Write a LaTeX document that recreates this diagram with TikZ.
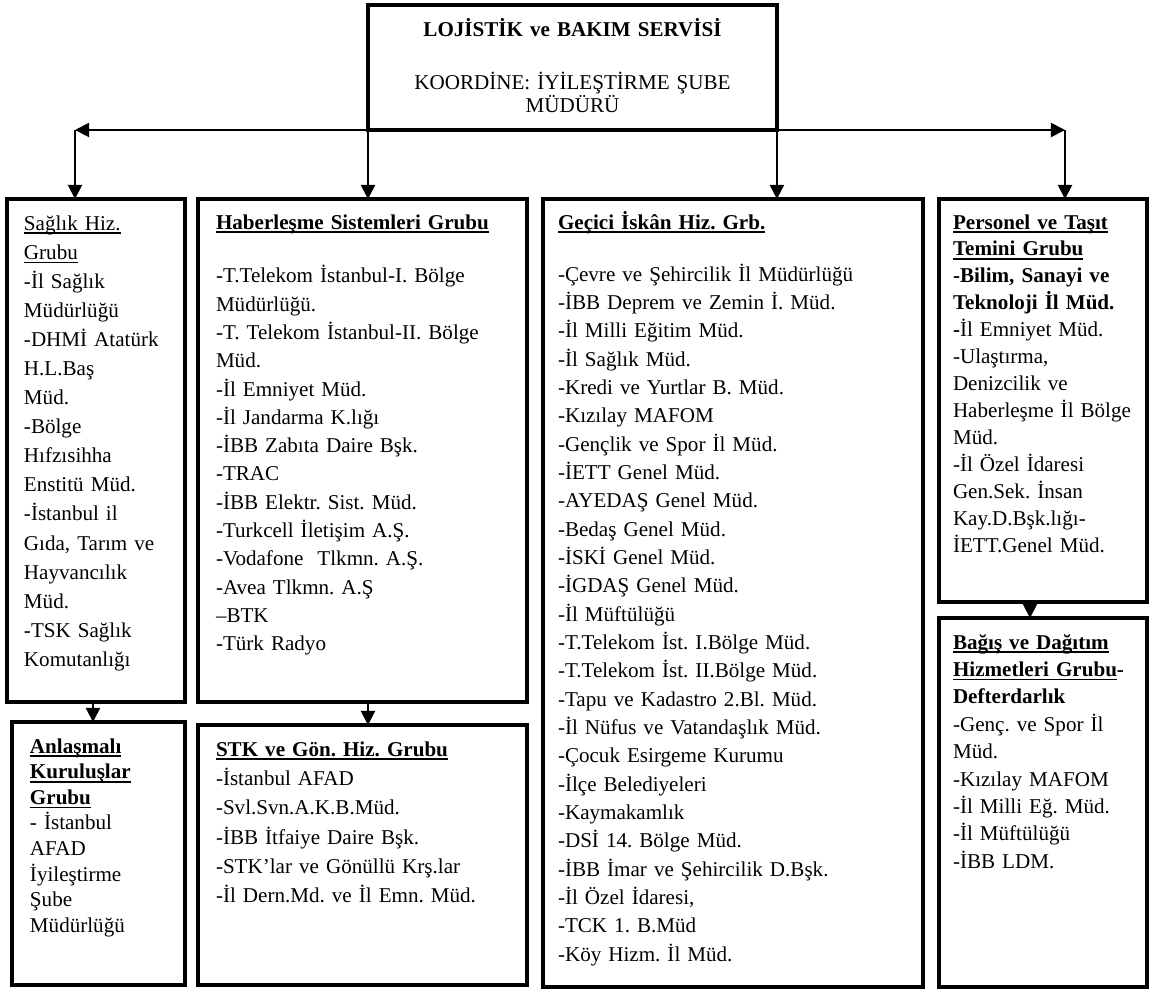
\documentclass[tikz,border=0pt]{standalone}
\usepackage{fontspec}
\setmainfont{Liberation Serif}
\usetikzlibrary{arrows.meta, positioning, calc}
\frenchspacing

\newsavebox{\undlbox}
\newcommand{\undl}[1]{\leavevmode\sbox{\undlbox}{#1}\rlap{\rule[-2.2pt]{\wd\undlbox}{0.8pt}}\usebox{\undlbox}}

\tikzset{
  grp/.style={draw, line width=2pt, anchor=north west, outer sep=0pt, inner ysep=0pt, align=left},
  conn/.style={line width=1.1pt, -{Triangle[length=8pt, width=8pt]}},
}

\begin{document}
\begin{tikzpicture}[x=0.02cm, y=-0.02cm, font=\fontsize{12}{14}\selectfont]
  \useasboundingbox (0,0) rectangle (1155,991);

  % Service box
  \node[grp, align=center, inner xsep=0pt, text width=8.18cm, text height=0.64cm, text depth=1.86cm, font=\fontsize{12}{13.1}\selectfont] (lojistik) at (368,5) {
    \textbf{LOJİSTİK ve BAKIM SERVİSİ}\\[16.5pt]
    KOORDİNE: İYİLEŞTİRME ŞUBE\\
    MÜDÜRÜ
  };

  % Upper row of groups
  \node[grp, inner xsep=0.34cm, text width=2.88cm, text height=0.62cm, text depth=9.44cm, font=\fontsize{12}{16.56}\selectfont] (sag) at (7,199) {
    \undl{Sağlık Hiz.}\\
    \undl{Grubu}\\
    -İl Sağlık\\
    Müdürlüğü\\
    -DHMİ Atatürk\\
    H.L.Baş\\
    Müd.\\
    -Bölge\\
    Hıfzısihha\\
    Enstitü Müd.\\
    -İstanbul il\\
    Gıda, Tarım ve\\
    Hayvancılık\\
    Müd.\\
    -TSK Sağlık\\
    Komutanlığı
  };
  \node[grp, inner xsep=0.36cm, text width=5.86cm, text height=0.60cm, text depth=9.46cm, font=\fontsize{12}{16.1}\selectfont] (hab) at (198,199) {
    \textbf{\undl{Haberleşme Sistemleri Grubu}}\\[14.6pt]
    -T.Telekom İstanbul-I. Bölge\\
    Müdürlüğü.\\
    -T. Telekom İstanbul-II. Bölge\\
    Müd.\\
    -İl Emniyet Müd.\\
    -İl Jandarma K.lığı\\
    -İBB Zabıta Daire Bşk.\\
    -TRAC\\
    -İBB Elektr. Sist. Müd.\\
    -Turkcell İletişim A.Ş.\\
    -Vodafone\ \ Tlkmn. A.Ş.\\
    -Avea Tlkmn. A.Ş\\
    –BTK\\
    -Türk Radyo
  };
  \node[grp, inner xsep=0.30cm, text width=7.00cm, text height=0.60cm, text depth=15.16cm, font=\fontsize{12}{16.13}\selectfont] (gec) at (543,199) {
    \textbf{\undl{Geçici İskân Hiz. Grb.}}\\[13.5pt]
    -Çevre ve Şehircilik İl Müdürlüğü\\
    -İBB Deprem ve Zemin İ. Müd.\\
    -İl Milli Eğitim Müd.\\
    -İl Sağlık Müd.\\
    -Kredi ve Yurtlar B. Müd.\\
    -Kızılay MAFOM\\
    -Gençlik ve Spor İl Müd.\\
    -İETT Genel Müd.\\
    -AYEDAŞ Genel Müd.\\
    -Bedaş Genel Müd.\\
    -İSKİ Genel Müd.\\
    -İGDAŞ Genel Müd.\\
    -İl Müftülüğü\\
    -T.Telekom İst. I.Bölge Müd.\\
    -T.Telekom İst. II.Bölge Müd.\\
    -Tapu ve Kadastro 2.Bl. Müd.\\
    -İl Nüfus ve Vatandaşlık Müd.\\
    -Çocuk Esirgeme Kurumu\\
    -İlçe Belediyeleri\\
    -Kaymakamlık\\
    -DSİ 14. Bölge Müd.\\
    -İBB İmar ve Şehircilik D.Bşk.\\
    -İl Özel İdaresi,\\
    -TCK 1. B.Müd\\
    -Köy Hizm. İl Müd.
  };
  \node[grp, inner xsep=0.28cm, text width=3.60cm, text height=0.60cm, text depth=7.46cm, font=\fontsize{12}{15.36}\selectfont] (per) at (939,199) {
    \textbf{\undl{Personel ve Taşıt}}\\
    \textbf{\undl{Temini Grubu}}\\
    \textbf{-Bilim, Sanayi ve}\\
    \textbf{Teknoloji İl Müd.}\\
    \textbf{-}İl Emniyet Müd.\\
    -Ulaştırma,\\
    Denizcilik ve\\
    Haberleşme İl Bölge\\
    Müd.\\
    -İl Özel İdaresi\\
    Gen.Sek. İnsan\\
    Kay.D.Bşk.lığı-\\
    İETT.Genel Müd.
  };

  % Lower row of groups
  \node[grp, inner xsep=0.36cm, text width=2.74cm, text height=0.62cm, text depth=4.64cm, font=\fontsize{12}{14.6}\selectfont] (anl) at (12,722) {
    \textbf{\undl{Anlaşmalı}}\\
    \textbf{\undl{Kuruluşlar}}\\
    \textbf{\undl{Grubu}}\\
    - İstanbul\\
    AFAD\\
    İyileştirme\\
    Şube\\
    Müdürlüğü
  };
  \node[grp, inner xsep=0.36cm, text width=5.86cm, text height=0.62cm, text depth=4.58cm, font=\fontsize{12}{16.7}\selectfont] (stk) at (198,725) {
    \textbf{\undl{STK ve Gön. Hiz. Grubu}}\\
    -İstanbul AFAD\\
    -Svl.Svn.A.K.B.Müd.\\
    -İBB İtfaiye Daire Bşk.\\
    -STK’lar ve Gönüllü Krş.lar\\
    -İl Dern.Md. ve İl Emn. Müd.
  };
  \node[grp, inner xsep=0.28cm, text width=3.60cm, text height=0.62cm, text depth=6.76cm, font=\fontsize{12}{15.6}\selectfont] (bag) at (939,618) {
    \textbf{\undl{Bağış ve Dağıtım}}\\
    \textbf{\undl{Hizmetleri Grubu}-}\\
    \textbf{Defterdarlık}\\
    -Genç. ve Spor İl\\
    Müd.\\
    -Kızılay MAFOM\\
    -İl Milli Eğ. Müd.\\
    -İl Müftülüğü\\
    -İBB LDM.
  };

  % Connectors
  \coordinate (lc) at (75,130);
  \coordinate (rc) at (1065,130);
  \draw[line width=1.1pt, {Triangle[length=8pt, width=8pt]}-{Triangle[length=8pt, width=8pt]}] (lc) -- (rc);
  \draw[conn] (lc) -- (lc |- sag.north);
  \draw[conn] (lojistik.south west) -- (lojistik.south west |- hab.north);
  \draw[conn] (lojistik.south east) -- (lojistik.south east |- gec.north);
  \draw[conn] (rc) -- (rc |- per.north);
  \draw[conn] ([xshift=-0.06cm]sag.south) -- ([xshift=-0.06cm]sag.south |- anl.north);
  \draw[conn] (hab.south -| lojistik.south west) -- (stk.north -| lojistik.south west);
  \draw[conn] ([xshift=-0.26cm]per.south) -- ([xshift=-0.26cm]per.south |- bag.north);
\end{tikzpicture}
\end{document}
